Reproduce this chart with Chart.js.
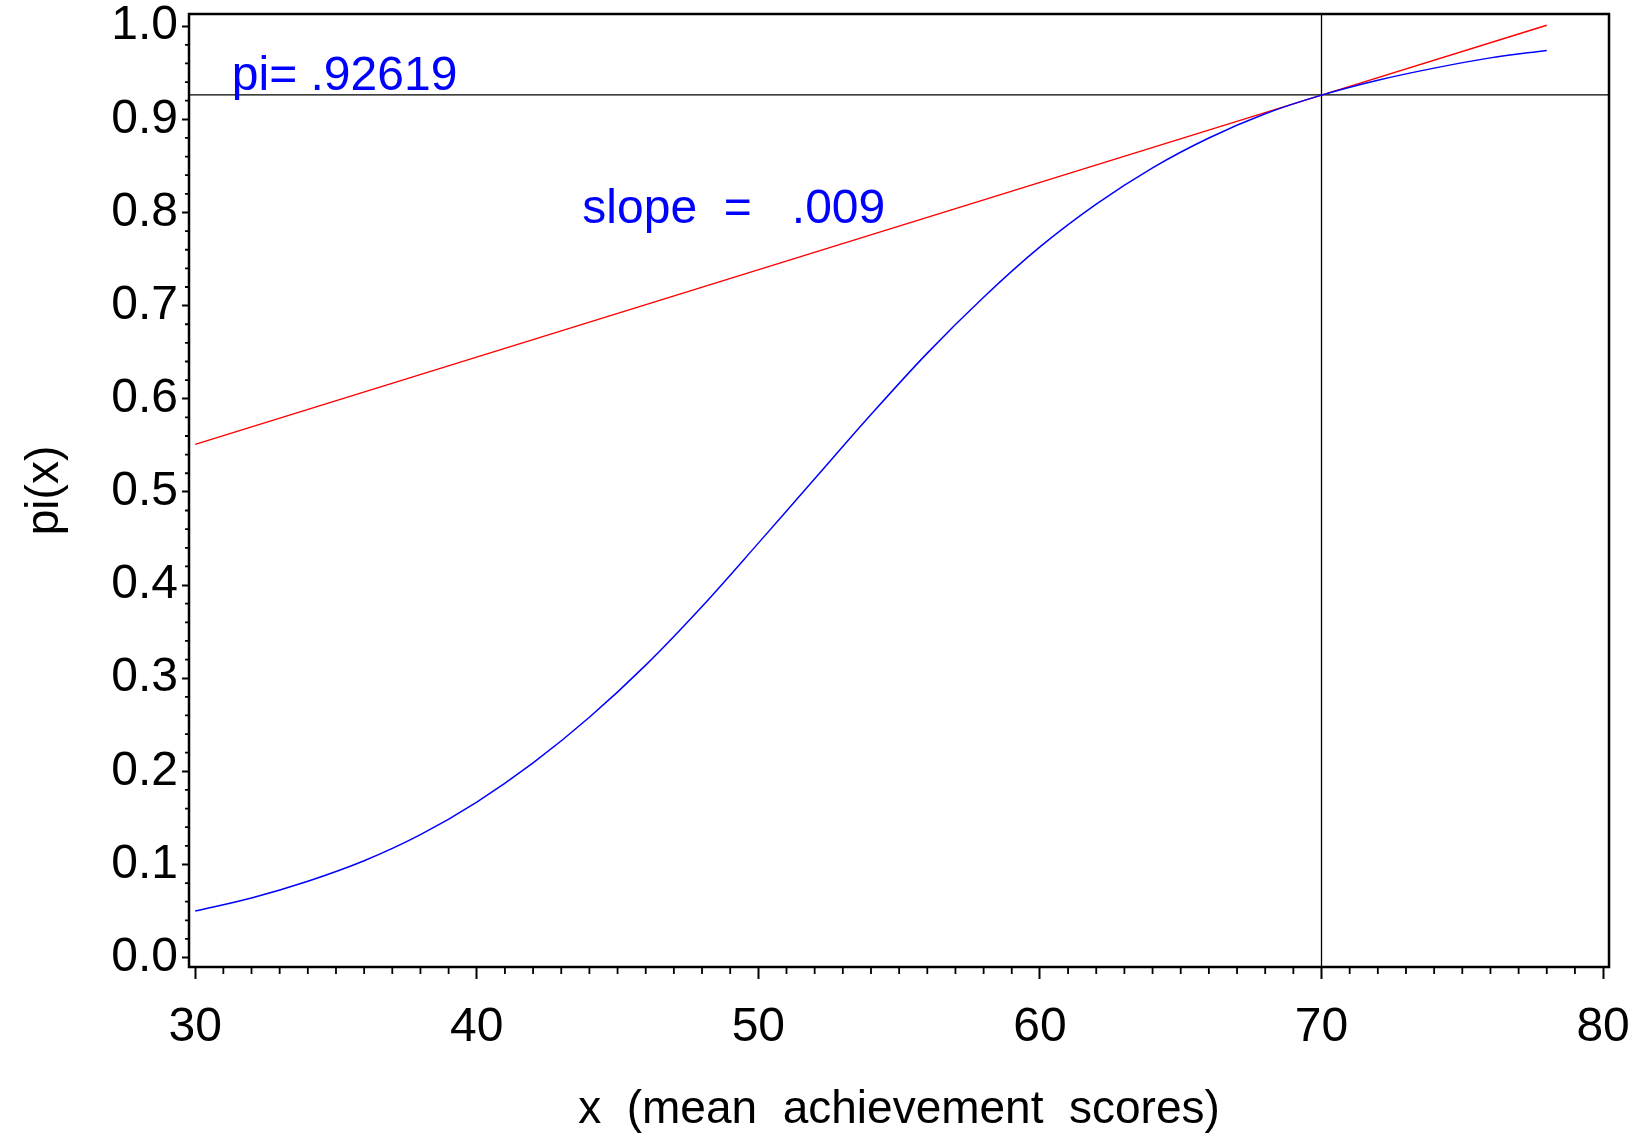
<!DOCTYPE html>
<html>
<head>
<meta charset="utf-8">
<script src="https://cdn.jsdelivr.net/npm/chart.js@4.4.1/dist/chart.umd.min.js"></script>
<style>
  html, body { margin: 0; padding: 0; background: #fff; }
  #wrap { width: 1644px; height: 1138px; }
</style>
</head>
<body>
<div id="wrap"><canvas id="logit-curve"></canvas></div>
<script>
'use strict'

// fitted probability pi(x) against mean achievement score
const scores = [30, 32, 34, 36, 38, 40, 42, 44, 46, 48, 50, 52, 54, 56, 58, 60, 62, 64, 66, 68, 70, 72, 74, 76, 78]
const piHat = [0.050, 0.064, 0.082, 0.104, 0.132, 0.167, 0.209, 0.258, 0.314, 0.377, 0.445, 0.514, 0.583, 0.649, 0.709,
  0.763, 0.809, 0.848, 0.880, 0.906, 0.926, 0.942, 0.955, 0.966, 0.974]

// tangent line through the reference point
const tangentX = [30, 70, 78]
const tangentPi = [0.551, 0.926, 1.001]

// reference point and slope label
const refScore = 70
const refPi = 0.92619
const slope = 0.009

// axis ticks
const xTicks = [30, 40, 50, 60, 70, 80]
const yTicks = [0, 0.1, 0.2, 0.3, 0.4, 0.5, 0.6, 0.7, 0.8, 0.9, 1.0]

const FONT = '"Liberation Sans", Arial, sans-serif'

const toPoints = (xs, ys) => xs.map((x, i) => ({ x, y: ys[i] }))
const dropZero = v => v.toString().replace(/^0\./, '.')

//crosshair at the reference point, drawn under the curves
const crosshair = {
  id: 'crosshair',
  beforeDatasetsDraw(chart) {
    const { ctx, chartArea: a, scales: { x, y } } = chart
    const px = x.getPixelForValue(refScore)
    const py = y.getPixelForValue(refPi)
    ctx.save()
    ctx.strokeStyle = '#000'
    ctx.lineWidth = 1.3
    ctx.beginPath()
    ctx.moveTo(a.left, py); ctx.lineTo(a.right, py)
    ctx.moveTo(px, a.top); ctx.lineTo(px, a.bottom)
    ctx.stroke()
    ctx.restore()
  }
}

//frame, minor ticks and the two blue labels
const frameAndLabels = {
  id: 'frameAndLabels',
  afterDatasetsDraw(chart) {
    const { ctx, chartArea: a, scales: { x, y } } = chart
    ctx.save()
    ctx.strokeStyle = '#000'
    ctx.lineWidth = 2.5
    ctx.strokeRect(a.left, a.top, a.right - a.left, a.bottom - a.top)

    ctx.lineWidth = 1.8
    ctx.beginPath()
    for (let v = 31; v < 80; v++) {
      if (v % 10 === 0) continue
      const px = x.getPixelForValue(v)
      ctx.moveTo(px, a.bottom); ctx.lineTo(px, a.bottom + 7)
    }
    for (let k = 1; k < 50; k++) {
      if (k % 5 === 0) continue
      const py = y.getPixelForValue(k * 0.02)
      ctx.moveTo(a.left - 4, py); ctx.lineTo(a.left, py)
    }
    ctx.stroke()

    ctx.fillStyle = '#0000ff'
    ctx.font = '48px ' + FONT
    ctx.textBaseline = 'alphabetic'
    ctx.textAlign = 'left'
    ctx.fillText('pi= ' + dropZero(refPi), x.getPixelForValue(31.3), y.getPixelForValue(0.931))
    ctx.fillText('slope  =   ' + dropZero(slope.toFixed(3)), x.getPixelForValue(43.75), y.getPixelForValue(0.789))
    ctx.restore()
  }
}

new Chart(document.getElementById('logit-curve'), {
  type: 'scatter',
  data: {
    datasets: [
      {
        label: 'pi(x)',
        data: toPoints(scores, piHat),
        showLine: true,
        borderColor: '#0000ff',
        borderWidth: 1.5,
        pointRadius: 0,
        tension: 0.35
      },
      {
        label: 'tangent',
        data: toPoints(tangentX, tangentPi),
        showLine: true,
        borderColor: '#ff0000',
        borderWidth: 1.5,
        pointRadius: 0
      }
    ]
  },
  options: {
    responsive: true,
    maintainAspectRatio: false,
    animation: false,
    devicePixelRatio: 1,
    layout: { padding: { top: 14, right: 35, left: 0, bottom: 0 } },
    plugins: {
      legend: { display: false },
      tooltip: { enabled: false }
    },
    scales: {
      x: {
        type: 'linear',
        min: 29.78,
        max: 80.21,
        afterBuildTicks: scale => { scale.ticks = xTicks.map(value => ({ value })) },
        afterFit: scale => {
          scale.height = 171
          scale.paddingLeft = 0
          scale.paddingRight = 0
        },
        border: { display: false },
        grid: { drawOnChartArea: false, tickLength: 12, tickColor: '#000', tickWidth: 2 },
        ticks: {
          color: '#000',
          font: { family: FONT, size: 48 },
          padding: 20,
          maxRotation: 0
        },
        title: {
          display: true,
          text: 'x  (mean  achievement  scores)',
          color: '#000',
          font: { family: FONT, size: 46 },
          padding: { top: 0, bottom: 0 }
        }
      },
      y: {
        type: 'linear',
        min: -0.0101,
        max: 1.0131,
        afterBuildTicks: scale => { scale.ticks = yTicks.map(value => ({ value })) },
        afterFit: scale => {
          scale.width = 189
          scale.paddingTop = 0
          scale.paddingBottom = 0
        },
        border: { display: false },
        grid: { drawOnChartArea: false, tickLength: 7, tickColor: '#000', tickWidth: 2 },
        ticks: {
          color: '#000',
          font: { family: FONT, size: 48 },
          padding: 4,
          callback: v => v.toFixed(1)
        },
        title: {
          display: true,
          text: 'pi(x)',
          color: '#000',
          font: { family: FONT, size: 46 },
          padding: { top: 18, bottom: 0 }
        }
      }
    }
  },
  plugins: [crosshair, frameAndLabels]
})
</script>
</body>
</html>
